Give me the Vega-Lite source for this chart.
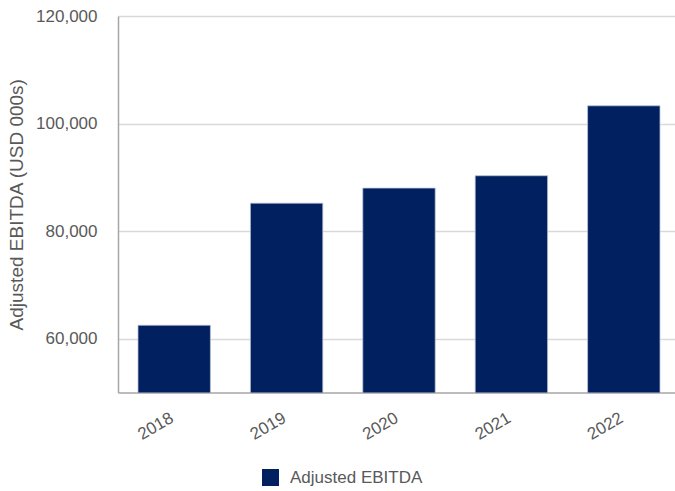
{
  "$schema": "https://vega.github.io/schema/vega-lite/v6.json",
  "autosize": "none",
  "padding": {"left": 118, "top": 16, "right": 0, "bottom": 98.5},
  "width": 562,
  "height": 376.5,
  "background": "white",
  "config": {
    "font": "Liberation Sans",
    "view": {"stroke": null},
    "axis": {"labelFont": "Liberation Sans", "titleFont": "Liberation Sans", "labelColor": "#595959", "titleColor": "#595959"}
  },
  "data": {
    "values": [
      {"year": "2018", "value": 62500, "series": "Adjusted EBITDA"},
      {"year": "2019", "value": 85200, "series": "Adjusted EBITDA"},
      {"year": "2020", "value": 88000, "series": "Adjusted EBITDA"},
      {"year": "2021", "value": 90300, "series": "Adjusted EBITDA"},
      {"year": "2022", "value": 103300, "series": "Adjusted EBITDA"}
    ]
  },
  "mark": {"type": "bar", "clip": true, "stroke": "#b8c2d4", "strokeWidth": 0.75},
  "encoding": {
    "x": {
      "field": "year",
      "type": "ordinal",
      "scale": {"paddingInner": 0.356, "paddingOuter": 0.178},
      "axis": {
        "title": null,
        "labelAngle": -30,
        "labelAlign": "right",
        "labelBaseline": "top",
        "labelFontSize": 17,
        "labelPadding": 17,
        "labelOffset": -6,
        "ticks": false,
        "domainColor": "#a6a6a6",
        "domainWidth": 1.5
      }
    },
    "y": {
      "field": "value",
      "type": "quantitative",
      "scale": {"domain": [50000, 120000], "nice": false, "zero": false},
      "axis": {
        "title": "Adjusted EBITDA (USD 000s)",
        "titleFontSize": 19,
        "titleFontWeight": "normal",
        "titlePadding": 9,
        "values": [60000, 80000, 100000, 120000],
        "format": ",.0f",
        "labelFontSize": 17,
        "labelPadding": 21,
        "ticks": false,
        "domainColor": "#a6a6a6",
        "domainWidth": 1.5,
        "gridColor": "#d9d9d9",
        "gridWidth": 1.5
      }
    },
    "color": {
      "field": "series",
      "type": "nominal",
      "scale": {"domain": ["Adjusted EBITDA"], "range": ["#002060"]},
      "legend": {
        "title": null,
        "orient": "none",
        "legendX": 144,
        "legendY": 453,
        "symbolType": "square",
        "symbolSize": 289,
        "symbolStrokeWidth": 0,
        "labelFontSize": 17,
        "labelColor": "#595959",
        "labelOffset": 11
      }
    }
  }
}
